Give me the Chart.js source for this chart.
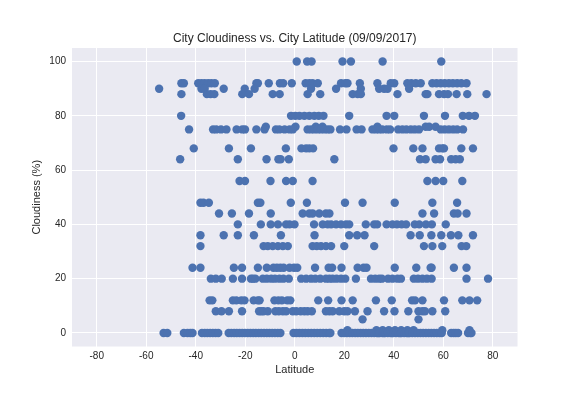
<!DOCTYPE html>
<html>
<head>
<meta charset="utf-8">
<script src="https://cdn.jsdelivr.net/npm/chart.js@4/dist/chart.umd.min.js"></script>
<style>
  html, body { margin: 0; padding: 0; background: #ffffff; }
  canvas { display: block; }
</style>
</head>
<body>
<canvas id="c" width="576" height="396"></canvas>
<script>
// ---- Data ----
const chartTitle = "City Cloudiness vs. City Latitude (09/09/2017)";
const xTitle = "Latitude";
const yTitle = "Cloudiness (%)";
const xTicks = [-80, -60, -40, -20, 0, 20, 40, 60, 80];
const yTicks = [0, 20, 40, 60, 80, 100];

// Latitudes of cities, grouped by their cloudiness value (%)
const lat100 = [0.8, 5.0, 6.8, 19.3, 22.7, 35.5, 59.2];
const lat92 = [-45.8, -44.8, -39.0, -37.7, -36.4, -35.0, -33.7, -32.3, -15.5, -14.9, -10.5, -6.0, -4.7, -1.2, 4.4, 5.9, 7.2, 9.3, 18.7, 20.4, 21.3, 26.3, 33.4, 38.8, 40.2, 45.5, 47.1, 48.9, 50.9, 55.6, 57.3, 59.0, 60.6, 62.3, 63.9, 65.6, 67.3, 69.4];
const lat90 = [-54.8, -37.7, -36.4, -28.7, -20.2, -16.2, 6.6, 16.7, 26.7, 34.1, 36.1, 37.5, 46.2];
const lat88 = [-45.8, -35.5, -34.0, -32.5, -21.2, -18.5, -8.9, -6.1, 5.2, 10.3, 23.4, 25.4, 26.7, 41.5, 52.9, 53.6, 58.3, 60.3, 61.9, 65.4, 69.7, 77.5];
const lat80 = [-45.9, -1.5, 0.2, 1.9, 3.9, 5.9, 7.9, 9.7, 11.6, 22.0, 37.1, 40.2, 52.2, 60.7, 67.9, 70.4, 72.8];
const lat76 = [-11.7, 0.3, 8.5, 11.2, 33.4, 52.9, 54.3, 56.9];
const lat75 = [-42.7, -33.0, -31.7, -29.8, -27.6, -23.5, -21.2, -20.1, -15.5, -12.2, -7.6, -6.2, -4.1, -2.1, -0.8, 5.2, 6.6, 7.9, 9.3, 10.6, 12.0, 13.3, 14.4, 18.3, 20.9, 25.0, 27.0, 31.4, 32.8, 34.1, 35.4, 37.2, 38.5, 41.8, 43.5, 45.1, 46.9, 48.5, 50.2, 59.0, 60.6, 62.3, 64.0, 65.6, 68.0];
const lat68 = [-40.8, -26.6, -17.7, -3.6, 2.7, 4.6, 5.9, 7.4, 39.9, 47.9, 51.6, 58.3, 59.6, 60.3, 67.3, 72.0];
const lat64 = [-46.3, -23.0, -11.4, -6.6, -5.7, -2.4, 16.0, 50.6, 52.9, 56.9, 58.7, 63.2, 65.0, 66.7];
const lat56 = [-22.3, -20.1, -9.8, -3.5, -0.8, 7.2, 53.6, 56.9, 60.0, 67.7];
const lat48 = [-38.1, -36.9, -34.7, -14.9, -13.9, -1.6, 4.9, 20.3, 27.4, 40.4, 55.6, 65.6];
const lat44 = [-30.6, -25.4, -18.5, -9.7, 3.2, 5.9, 7.2, 9.9, 12.6, 14.0, 51.6, 56.3, 64.3, 65.8, 69.4];
const lat40 = [-23.0, -13.7, -9.7, -6.8, -3.5, -2.1, -0.1, 7.8, 11.3, 13.3, 14.7, 16.7, 18.7, 20.7, 22.0, 28.7, 32.1, 33.3, 37.1, 39.5, 41.3, 43.2, 45.0, 48.5, 50.3, 53.0, 55.4, 61.0];
const lat36 = [-38.1, -28.7, -23.0, -16.5, -5.6, 8.0, 22.0, 25.2, 28.2, 46.8, 50.5, 55.2, 59.2, 63.1, 66.1, 72.0];
const lat32 = [-38.1, -12.6, -10.9, -8.9, -6.8, -4.8, -2.8, 7.2, 8.9, 10.6, 12.6, 14.7, 20.0, 32.1, 52.2, 55.6, 59.6, 67.4, 69.3];
const lat24 = [-41.3, -38.1, -24.6, -21.3, -14.9, -11.3, -8.6, -7.2, -5.8, -4.5, -2.1, -0.3, 1.0, 8.2, 13.7, 15.1, 18.9, 25.4, 27.8, 29.0, 40.4, 49.1, 54.9, 55.3, 64.3, 69.4];
const lat20 = [-33.9, -31.9, -29.5, -25.0, -21.3, -17.7, -16.9, -15.9, -12.9, -11.3, -9.5, -8.0, -6.2, -4.6, -2.4, 2.6, 4.6, 6.6, 8.3, 10.3, 12.6, 14.0, 15.3, 16.9, 18.7, 20.4, 24.7, 30.8, 32.5, 34.1, 35.2, 37.7, 39.5, 41.5, 42.9, 48.1, 49.8, 51.6, 53.4, 55.3, 69.4, 78.1];
const lat12 = [-34.4, -33.3, -25.0, -23.6, -21.6, -20.3, -16.6, -14.9, -14.2, -8.2, -6.6, -5.2, -3.0, -1.8, 9.5, 13.5, 18.9, 23.4, 32.8, 39.2, 47.4, 48.6, 51.6, 60.3, 67.7, 70.6, 73.7];
const lat8 = [-31.9, -29.6, -26.6, -21.3, -14.4, -13.5, -12.6, -10.9, -7.8, -6.4, -4.8, -3.5, -0.8, 0.6, 2.4, 3.9, 5.2, 6.9, 12.6, 14.0, 15.3, 18.0, 20.0, 21.3, 24.3, 29.4, 36.1, 40.3, 45.9, 50.0, 51.6, 52.6, 55.6, 60.8];
const lat5 = [27.4, 50.0];
const lat1 = [21.3, 33.0, 35.5, 38.0, 40.5, 43.0, 45.5, 48.0, 59.6, 70.6];
const lat0 = [-53.0, -51.5, -44.8, -43.3, -42.2, -41.3, -37.5, -36.4, -35.3, -34.2, -33.1, -32.0, -30.9,
  -26.7, -25.6, -24.5, -23.4, -22.3, -21.2, -20.1, -19.0, -17.9, -16.8, -15.7, -14.6, -13.5, -12.4, -11.3, -10.2, -9.1, -8.0, -6.9, -5.8,
  -0.5, 0.7, 1.9, 3.1, 4.3, 5.5, 6.7, 7.9, 9.1, 10.3, 11.5, 12.7, 13.9, 14.4,
  18.9, 20.0, 21.1, 22.2, 23.3, 24.4, 25.5, 26.6, 27.7, 28.8, 29.9, 31.0, 32.1, 33.2, 33.8, 34.3, 35.4, 36.0, 36.5, 37.6, 38.7, 39.3, 39.8, 40.9, 42.0, 42.6, 43.1, 44.2, 45.3, 45.9, 46.4, 47.5, 48.6, 49.7, 50.8, 51.9, 53.0, 54.1, 55.2, 56.3, 57.4, 58.5, 59.4,
  63.2, 64.2, 65.1, 66.0, 70.0, 70.9, 71.4];

const cloudLevels = [100, 92, 90, 88, 80, 76, 75, 68, 64, 56, 48, 44, 40, 36, 32, 24, 20, 12, 8, 5, 1, 0];
const latGroups = [lat100, lat92, lat90, lat88, lat80, lat76, lat75, lat68, lat64, lat56, lat48, lat44, lat40, lat36, lat32, lat24, lat20, lat12, lat8, lat5, lat1, lat0];

// Build the point table for the library
const points = [];
cloudLevels.forEach((c, i) => latGroups[i].forEach(lat => points.push({ x: lat, y: c })));

// ---- Styling ----
const FONT = "'Liberation Sans', Arial, sans-serif";
const TEXT = '#262626';
const PLOT_BG = '#EAEAF2';
const MARK = '#4C72B0';

const bgPlugin = {
  id: 'bg',
  beforeDraw(chart) {
    const { ctx, chartArea: a } = chart;
    ctx.save();
    ctx.fillStyle = '#ffffff';
    ctx.fillRect(0, 0, chart.width, chart.height);
    ctx.fillStyle = PLOT_BG;
    ctx.fillRect(a.left, a.top, a.right - a.left, a.bottom - a.top);
    ctx.restore();
  }
};

new Chart(document.getElementById('c').getContext('2d'), {
  type: 'scatter',
  data: {
    datasets: [{
      data: points,
      backgroundColor: MARK,
      borderColor: MARK,
      borderWidth: 0,
      pointRadius: 4.2,
      pointHoverRadius: 4.2
    }]
  },
  options: {
    responsive: false,
    animation: false,
    devicePixelRatio: 1,
    events: [],
    layout: { padding: { top: 31, left: 0, right: 58.5, bottom: 0 } },
    plugins: {
      legend: { display: false },
      tooltip: { enabled: false },
      title: {
        display: true,
        fullSize: false,
        text: chartTitle,
        color: TEXT,
        font: { family: FONT, size: 12, weight: 'normal' },
        padding: { top: 0, bottom: 2.6 }
      }
    },
    scales: {
      x: {
        type: 'linear',
        min: -90, max: 90,
        afterBuildTicks: s => { s.ticks = xTicks.map(v => ({ value: v })); },
        afterFit: s => { s.height = 49.5; },
        grid: { color: '#ffffff', lineWidth: 1, drawTicks: false },
        border: { display: false },
        ticks: { color: TEXT, padding: 3.5, font: { family: FONT, size: 10 }, maxRotation: 0 },
        title: { display: true, text: xTitle, color: TEXT, font: { family: FONT, size: 11 }, padding: { top: 0, bottom: 19.4 } }
      },
      y: {
        type: 'linear',
        min: -5, max: 105,
        afterBuildTicks: s => { s.ticks = yTicks.map(v => ({ value: v })); },
        afterFit: s => { s.width = 72; },
        grid: { color: '#ffffff', lineWidth: 1, drawTicks: false },
        border: { display: false },
        ticks: { color: TEXT, padding: 6, font: { family: FONT, size: 10 } },
        title: { display: true, text: yTitle, color: TEXT, font: { family: FONT, size: 11 }, padding: { top: 30.4, bottom: 0 } }
      }
    }
  },
  plugins: [bgPlugin]
});
</script>
</body>
</html>
